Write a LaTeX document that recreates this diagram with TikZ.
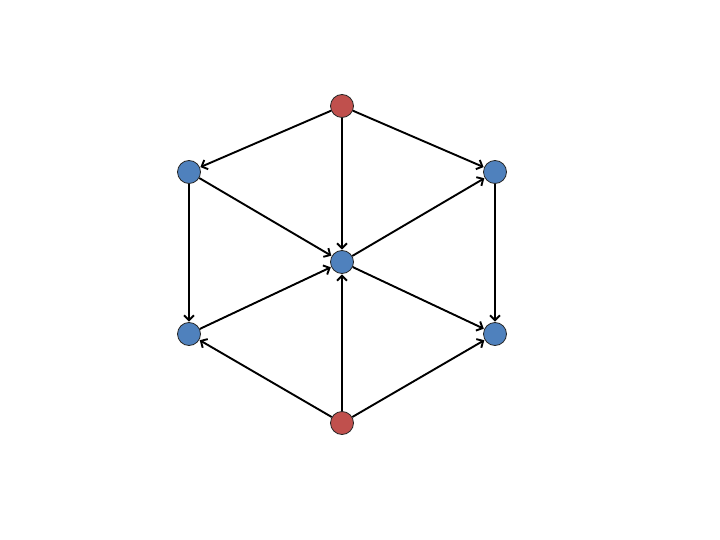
\documentclass[tikz,border=0pt]{standalone}
\usetikzlibrary{arrows.meta}
\definecolor{vred}{HTML}{C0504D}
\definecolor{vblue}{HTML}{4F81BD}
\begin{document}
\begin{tikzpicture}[x=1pt, y=-1pt,
  vertex/.style={circle, draw=black!85, line width=0.8pt, minimum size=23pt, inner sep=0pt},
  src/.style={vertex, fill=vred},
  mid/.style={vertex, fill=vblue},
  edge/.style={-{Straight Barb[length=5pt,width=10pt]}, line width=1.9pt, shorten >=0.5pt}]
\useasboundingbox (0,0) rectangle (720,540);
\node[src] (top) at (342,106) {};
\node[mid] (ul) at (189,172) {};
\node[mid] (ur) at (495,172) {};
\node[mid] (c) at (342,262) {};
\node[mid] (ll) at (189,334) {};
\node[mid] (lr) at (495,334) {};
\node[src] (bot) at (342,423) {};
\draw[edge] (top) -- (ul);
\draw[edge] (top) -- (ur);
\draw[edge] (top) -- (c);
\draw[edge] (ul) -- (c);
\draw[edge] (ul) -- (ll);
\draw[edge] (ur) -- (lr);
\draw[edge] (c) -- (ur);
\draw[edge] (c) -- (lr);
\draw[edge] (ll) -- (c);
\draw[edge] (bot) -- (ll);
\draw[edge] (bot) -- (c);
\draw[edge] (bot) -- (lr);
\end{tikzpicture}
\end{document}
